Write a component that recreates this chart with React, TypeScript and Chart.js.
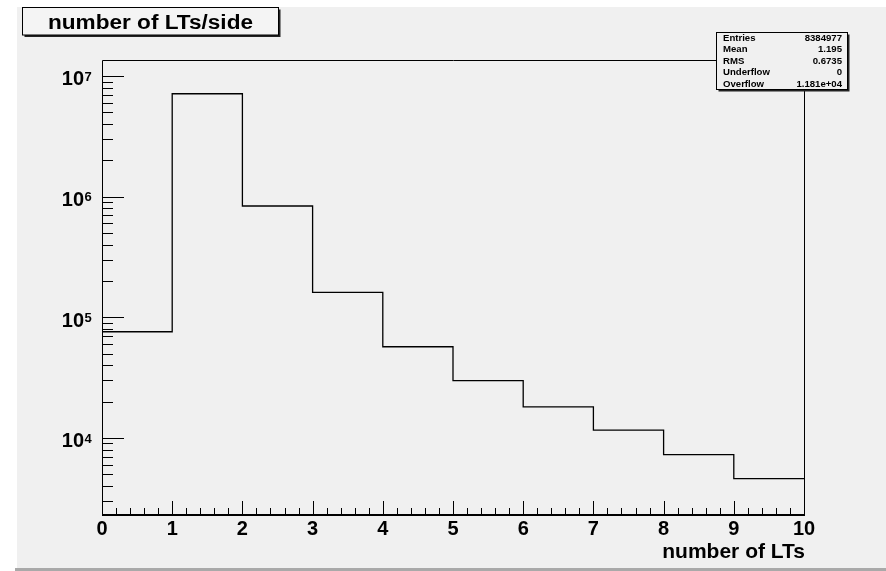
import React, { useEffect, useRef } from "react";
import { Chart, registerables } from "chart.js";

Chart.register(...registerables);

// ---- data ----
const binEdges = [0, 1, 2, 3, 4, 5, 6, 7, 8, 9, 10];
const binCounts = [75900, 7130000, 837000, 161000, 57000, 29900, 18100, 11600, 7280, 4600];
const xTickLabels = ["0", "1", "2", "3", "4", "5", "6", "7", "8", "9", "10"];
const yDecadeExponents = [3, 4, 5, 6, 7];
const yLabelExponents = ["4", "5", "6", "7"];
const statsLabels = ["Entries", "Mean", "RMS", "Underflow", "Overflow"];
const statsValues = ["8384977", "1.195", "0.6735", "0", "1.181e+04"];
const titleText = "number of LTs/side";
const xAxisTitle = "number of LTs";
const yMin = 2296;
const yMax = 1.358e7;
const xMin = 0;
const xMax = 10;

const FONT = '"Liberation Sans", Arial, Helvetica, sans-serif';

const decorPlugin = {
  id: "rootDecor",
  beforeDraw(chart: any) {
    const ctx = chart.ctx as CanvasRenderingContext2D;
    ctx.save();
    ctx.fillStyle = "#ffffff";
    ctx.fillRect(0, 0, chart.width, chart.height);
    ctx.fillStyle = "#f0f0f0";
    ctx.fillRect(17, 7, chart.width - 17, 561);
    ctx.fillStyle = "#a9a9a9";
    ctx.fillRect(15, 568, chart.width - 15, 3);
    ctx.restore();
  },
  afterDraw(chart: any) {
    const ctx = chart.ctx as CanvasRenderingContext2D;
    const xs = chart.scales.x;
    const ys = chart.scales.y;
    const { left, right, top, bottom } = chart.chartArea;
    ctx.save();
    ctx.strokeStyle = "#000";
    ctx.fillStyle = "#000";

    // frame
    ctx.lineWidth = 1;
    ctx.beginPath();
    ctx.moveTo(left + 0.5, bottom);
    ctx.lineTo(left + 0.5, top + 0.5);
    ctx.lineTo(right + 0.5, top + 0.5);
    ctx.lineTo(right + 0.5, bottom);
    ctx.stroke();
    ctx.lineWidth = 2;
    ctx.beginPath();
    ctx.moveTo(left, bottom);
    ctx.lineTo(right + 1, bottom);
    ctx.stroke();

    // y ticks (log)
    ctx.lineWidth = 1;
    for (const e of yDecadeExponents) {
      for (let m = 1; m <= 9; m++) {
        const v = m * Math.pow(10, e);
        if (v < yMin || v > yMax) continue;
        const py = Math.round(ys.getPixelForValue(v)) + 0.5;
        const len = m === 1 ? 22 : 11;
        ctx.beginPath();
        ctx.moveTo(left, py);
        ctx.lineTo(left + len, py);
        ctx.stroke();
      }
    }
    // y labels
    for (const ex of yLabelExponents) {
      const py = ys.getPixelForValue(Math.pow(10, Number(ex)));
      ctx.font = `bold 20px ${FONT}`;
      ctx.textAlign = "right";
      ctx.textBaseline = "alphabetic";
      ctx.fillText("10", 84, py + 9.4);
      ctx.font = `bold 13px ${FONT}`;
      ctx.textAlign = "left";
      ctx.fillText(ex, 84.5, py + 4.7);
    }

    // x ticks
    for (let i = 0; i <= 50; i++) {
      const v = xMin + (i * (xMax - xMin)) / 50;
      const px = Math.round(xs.getPixelForValue(v)) + 0.5;
      const len = i % 5 === 0 ? 14 : 7;
      ctx.beginPath();
      ctx.moveTo(px, bottom);
      ctx.lineTo(px, bottom - len);
      ctx.stroke();
    }
    ctx.font = `bold 20px ${FONT}`;
    ctx.textAlign = "center";
    ctx.textBaseline = "alphabetic";
    xTickLabels.forEach((lab, i) => {
      const px = xs.getPixelForValue(binEdges[i]);
      ctx.fillText(lab, px, 535);
    });

    // x axis title
    ctx.font = `bold 21px ${FONT}`;
    ctx.textAlign = "right";
    ctx.fillText(xAxisTitle, right + 1, 558);

    // title box
    const tb = { x: 22.5, y: 7.5, w: 256, h: 27.5 };
    ctx.fillStyle = "#222";
    ctx.fillRect(tb.x + 2, tb.y + 2, tb.w, tb.h);
    ctx.fillStyle = "#f4f4f4";
    ctx.fillRect(tb.x, tb.y, tb.w, tb.h);
    ctx.strokeStyle = "#000";
    ctx.lineWidth = 1;
    ctx.strokeRect(tb.x, tb.y, tb.w, tb.h);
    ctx.fillStyle = "#000";
    ctx.font = `bold 20px ${FONT}`;
    ctx.textAlign = "left";
    const tw = ctx.measureText(titleText).width;
    const target = 205;
    ctx.save();
    ctx.translate(48, 28.5);
    ctx.scale(target / tw, 1);
    ctx.fillText(titleText, 0, 0);
    ctx.restore();

    // stats box
    const sb = { x: 716.5, y: 32.5, w: 131, h: 57 };
    ctx.fillStyle = "#222";
    ctx.fillRect(sb.x + 2, sb.y + 2, sb.w, sb.h);
    ctx.fillStyle = "#f0f0f0";
    ctx.fillRect(sb.x, sb.y, sb.w, sb.h);
    ctx.strokeRect(sb.x, sb.y, sb.w, sb.h);
    ctx.fillStyle = "#000";
    ctx.font = `bold 9.6px ${FONT}`;
    statsLabels.forEach((lab, i) => {
      const by = 41 + i * 11.4;
      ctx.textAlign = "left";
      ctx.fillText(lab, 723, by);
      ctx.textAlign = "right";
      ctx.fillText(statsValues[i], 842, by);
    });

    ctx.restore();
  },
};

export default function App() {
  const ref = useRef<HTMLCanvasElement | null>(null);
  useEffect(() => {
    if (!ref.current) return;
    const points = binEdges.map((x, i) => ({
      x,
      y: binCounts[Math.min(i, binCounts.length - 1)],
    }));
    const chart = new Chart(ref.current, {
      type: "line",
      data: {
        datasets: [
          {
            data: points,
            stepped: "before",
            borderColor: "#000",
            borderWidth: 1.3,
            pointRadius: 0,
            fill: false,
          } as any,
        ],
      },
      options: {
        responsive: false,
        animation: false,
        devicePixelRatio: 1,
        layout: { padding: { left: 102, right: 82, top: 60, bottom: 56 } },
        plugins: { legend: { display: false }, tooltip: { enabled: false } },
        scales: {
          x: { type: "linear", min: xMin, max: xMax, display: false },
          y: { type: "logarithmic", min: yMin, max: yMax, display: false },
        },
      },
      plugins: [decorPlugin],
    });
    return () => chart.destroy();
  }, []);
  return (
    <div style={{ position: "absolute", left: 0, top: 0, width: 886, height: 571 }}>
      <canvas ref={ref} width={886} height={571} style={{ display: "block" }} />
    </div>
  );
}
